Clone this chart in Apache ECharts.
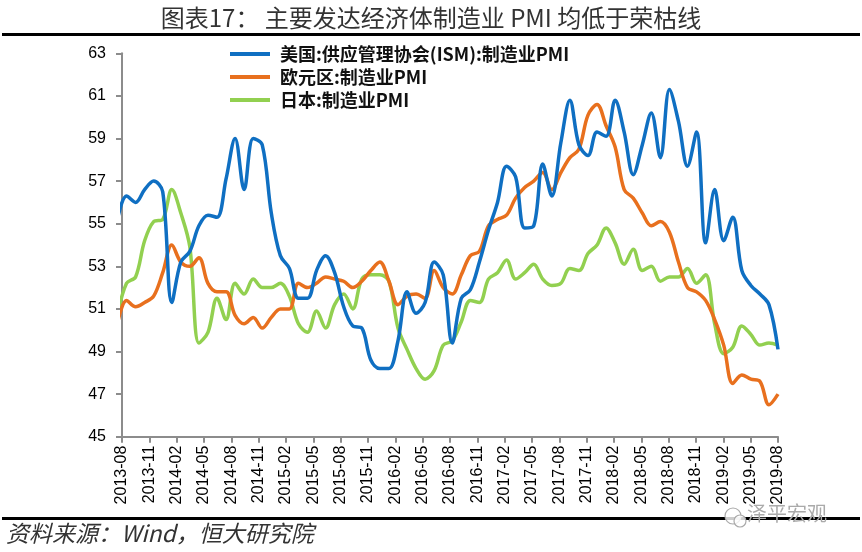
<!DOCTYPE html>
<html>
<head>
<meta charset="utf-8">
<script src="https://cdn.jsdelivr.net/npm/echarts@6/dist/echarts.min.js"></script>
<style>html,body{margin:0;padding:0;background:#fff;}#c{width:862px;height:552px;}</style>
</head>
<body>
<div id="c"></div>
<script>
// Months (the first one, 2013-07, only shapes the curve and is clipped at the axis)
const months = [
  '2013-07','2013-08','2013-09','2013-10','2013-11','2013-12',
  '2014-01','2014-02','2014-03','2014-04','2014-05','2014-06','2014-07','2014-08','2014-09','2014-10','2014-11','2014-12',
  '2015-01','2015-02','2015-03','2015-04','2015-05','2015-06','2015-07','2015-08','2015-09','2015-10','2015-11','2015-12',
  '2016-01','2016-02','2016-03','2016-04','2016-05','2016-06','2016-07','2016-08','2016-09','2016-10','2016-11','2016-12',
  '2017-01','2017-02','2017-03','2017-04','2017-05','2017-06','2017-07','2017-08','2017-09','2017-10','2017-11','2017-12',
  '2018-01','2018-02','2018-03','2018-04','2018-05','2018-06','2018-07','2018-08','2018-09','2018-10','2018-11','2018-12',
  '2019-01','2019-02','2019-03','2019-04','2019-05','2019-06','2019-07','2019-08'
];
const usISM = [
  55.2, 56.3, 56.0, 56.6, 57.0, 56.5,
  51.3, 53.2, 53.7, 54.9, 55.4, 55.3, 57.1, 59.0, 56.6, 59.0, 58.7, 55.5,
  53.5, 52.9, 51.5, 51.5, 52.8, 53.5, 52.7, 51.1, 50.2, 50.1, 48.6, 48.2,
  48.2, 49.5, 51.8, 50.8, 51.3, 53.2, 52.6, 49.4, 51.5, 51.9, 53.2, 54.7,
  56.0, 57.7, 57.2, 54.8, 54.9, 57.8, 56.3, 58.8, 60.8, 58.7, 58.2, 59.3,
  59.1, 60.8, 59.3, 57.3, 58.7, 60.2, 58.1, 61.3, 59.8, 57.7, 59.3, 54.1,
  56.6, 54.2, 55.3, 52.8, 52.1, 51.7, 51.2, 49.1
];
const euroZone = [
  50.3, 51.4, 51.1, 51.3, 51.6, 52.7,
  54.0, 53.2, 53.0, 53.4, 52.2, 51.8, 51.8, 50.7, 50.3, 50.6, 50.1, 50.6,
  51.0, 51.0, 52.2, 52.0, 52.2, 52.5, 52.4, 52.3, 52.0, 52.3, 52.8, 53.2,
  52.3, 51.2, 51.6, 51.7, 51.5, 52.8, 52.0, 51.7, 52.6, 53.5, 53.7, 54.9,
  55.2, 55.4, 56.2, 56.7, 57.0, 57.4, 56.6, 57.4, 58.1, 58.5, 60.1, 60.6,
  59.6, 58.6, 56.6, 56.2, 55.5, 54.9, 55.1, 54.6, 53.2, 52.0, 51.8, 51.4,
  50.5, 49.3, 47.5, 47.9, 47.7, 47.6, 46.5, 47.0
];
const japan = [
  50.7, 52.2, 52.5, 54.2, 55.1, 55.2,
  56.6, 55.5, 53.9, 49.4, 49.9, 51.5, 50.5, 52.2, 51.7, 52.4, 52.0, 52.0,
  52.2, 51.6, 50.3, 49.9, 50.9, 50.1, 51.2, 51.7, 51.0, 52.4, 52.6, 52.6,
  52.3, 50.1, 49.1, 48.2, 47.7, 48.1, 49.3, 49.5, 50.4, 51.4, 51.3, 52.4,
  52.7, 53.3, 52.4, 52.7, 53.1, 52.4, 52.1, 52.2, 52.9, 52.8, 53.6, 54.0,
  54.8, 54.1, 53.1, 53.8, 52.8, 53.0, 52.3, 52.5, 52.5, 52.9, 52.2, 52.6,
  50.3, 48.9, 49.2, 50.2, 49.8, 49.3, 49.4, 49.3
];
const tickLabels = [
  '2013-08','2013-11','2014-02','2014-05','2014-08','2014-11','2015-02','2015-05','2015-08',
  '2015-11','2016-02','2016-05','2016-08','2016-11','2017-02','2017-05','2017-08','2017-11',
  '2018-02','2018-05','2018-08','2018-11','2019-02','2019-05','2019-08'
];
const seriesNames = ['美国:供应管理协会(ISM):制造业PMI', '欧元区:制造业PMI', '日本:制造业PMI'];
const colors = ['#0F6FC2', '#E8701E', '#92D050'];

// x scale: 48 units per month; axis starts half a month before the 2013-08 point
const U = 48;
const xMax = (months.length - 1.5) * U;      // 3480
const xStep = xMax / (tickLabels.length - 1); // 145
function toPairs(arr) { return arr.map((v, i) => [(i - 0.5) * U, v]); }

const chart = echarts.init(document.getElementById('c'), null, { renderer: 'canvas' });
const font = 'Liberation Sans';
const cjk = 'Noto Sans CJK SC';
chart.setOption({
  backgroundColor: '#fff',
  animation: false,
  title: {
    text: '图表17： 主要发达经济体制造业 PMI 均低于荣枯线',
    left: 'center', top: 1,
    textStyle: { fontFamily: cjk, fontSize: 24, fontWeight: 'normal', color: '#333' }
  },
  legend: {
    left: 225, top: 40, orient: 'vertical',
    itemWidth: 40, itemHeight: 4, itemGap: 5,
    icon: 'path://M0,0 L40,0 L40,4 L0,4 Z',
    data: seriesNames,
    textStyle: { fontFamily: cjk, fontSize: 18, fontWeight: 'bold', color: '#111', padding: [0, 0, 0, 5] }
  },
  grid: { left: 122, right: 84, top: 53.3, bottom: 115.3, containLabel: false },
  xAxis: {
    type: 'value', min: 0, max: xMax, interval: xStep,
    axisLine: { lineStyle: { color: '#8c8c8c', width: 2 } },
    axisTick: { show: true, length: 6, lineStyle: { color: '#8c8c8c', width: 2 } },
    splitLine: { show: false },
    axisLabel: {
      rotate: 90, margin: 9, fontFamily: font, fontSize: 16, color: '#000',
      showMinLabel: true, showMaxLabel: true,
      formatter: function (v) { const k = Math.round(v / xStep); return tickLabels[k] || ''; }
    }
  },
  yAxis: {
    type: 'value', min: 45, max: 63, interval: 2,
    axisLine: { show: true, lineStyle: { color: '#8c8c8c', width: 2 } },
    axisTick: { show: true, length: 6, lineStyle: { color: '#8c8c8c', width: 2 } },
    splitLine: { show: false },
    axisLabel: { margin: 16, fontFamily: font, fontSize: 16, color: '#000' }
  },
  series: [usISM, euroZone, japan].map((arr, k) => ({
    name: seriesNames[k], type: 'line', data: toPairs(arr),
    showSymbol: false, symbol: 'none', smooth: 0.35, clip: true,
    lineStyle: { color: colors[k], width: 3.5 }, itemStyle: { color: colors[k] },
    z: 3 - k
  })),
  graphic: [
    { type: 'rect', left: 2, top: 33, shape: { width: 858, height: 3 }, style: { fill: '#000' } },
    { type: 'rect', left: 2, top: 517, shape: { width: 858, height: 3 }, style: { fill: '#000' } },
    { type: 'text', left: 6, top: 522, style: { text: '资料来源：Wind，恒大研究院', font: 'italic 23px "Noto Sans CJK SC"', fill: '#333' } },
    { type: 'circle', shape: { cx: 733, cy: 516, r: 8 }, style: { fill: 'rgba(255,255,255,0.8)', stroke: '#aaa', lineWidth: 1.2 } },
    { type: 'circle', shape: { cx: 740, cy: 521, r: 6 }, style: { fill: 'rgba(255,255,255,0.8)', stroke: '#aaa', lineWidth: 1.2 } },
    { type: 'text', left: 747, top: 503, style: { text: '泽平宏观', font: '20px "Noto Sans CJK SC"', fill: '#aaa' } }
  ]
});
</script>
</body>
</html>
